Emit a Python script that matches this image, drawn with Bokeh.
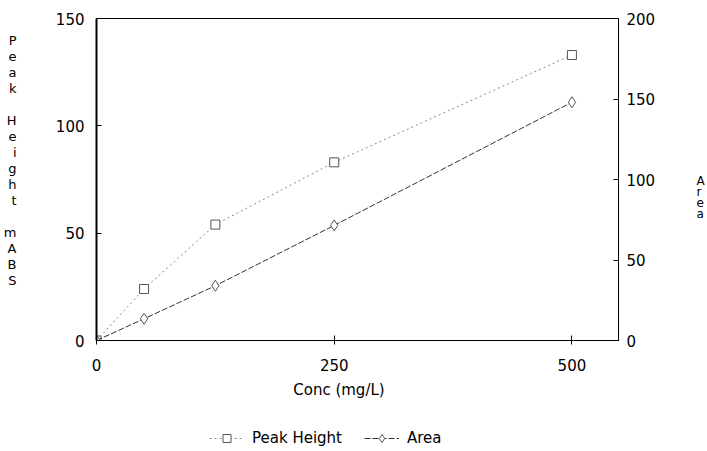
from bokeh.plotting import figure
from bokeh.models import Range1d, LinearAxis, Legend, LegendItem, FixedTicker
from bokeh.layouts import column
from bokeh.embed import file_html
from bokeh.resources import INLINE

conc = [0, 50, 125, 250, 500]
peak_height = [0, 24, 54, 83, 133]
area = [0, 13.5, 34, 71.5, 148]
x_ticks = [0, 250, 500]
left_ticks = [0, 50, 100, 150]
right_ticks = [0, 50, 100, 150, 200]
x_title = "Conc (mg/L)"
left_title = ["P", "e", "a", "k", "", "H", "e", "i", "g", "h", "t", "", "m", "A", "B", "S"]
right_title = ["A", "r", "e", "a"]
series_names = ["Peak Height", "Area"]

FONT = "DejaVu Sans"
FRAME_H = 322

p = figure(width=707, height=411, x_range=Range1d(0, 549), y_range=Range1d(0, 150),
           output_backend="svg", toolbar_location=None,
           min_border_left=94, min_border_right=87, min_border_top=18, min_border_bottom=71)
p.extra_y_ranges = {"area": Range1d(0, 200), "px": Range1d(0, FRAME_H)}
p.grid.visible = False
p.outline_line_color = "black"
p.outline_line_width = 1
p.background_fill_color = "white"
p.border_fill_color = "white"

ax_r = LinearAxis(y_range_name="area", ticker=FixedTicker(ticks=right_ticks))
p.add_layout(ax_r, "right")

p.xaxis.ticker = FixedTicker(ticks=x_ticks)
p.yaxis[0].ticker = FixedTicker(ticks=left_ticks)

for ax in p.xaxis:
    ax.major_tick_in = 5
    ax.major_tick_out = 4
    ax.major_label_standoff = 14
for ax in p.yaxis:
    ax.major_tick_in = 5
    ax.major_tick_out = 0
for ax in list(p.xaxis) + list(p.yaxis):
    ax.minor_tick_line_color = None
    ax.axis_line_color = "black"
    ax.major_tick_line_color = "black"
    ax.major_label_text_font = FONT
    ax.major_label_text_font_size = "15px"
    ax.major_label_text_color = "black"
p.yaxis[0].major_label_standoff = 12
p.yaxis[0].axis_line_width = 2
ax_r.major_label_standoff = 8


def text_axis(ticks, overrides, side, standoff, size, **kw):
    ax = LinearAxis(ticker=FixedTicker(ticks=ticks), major_label_overrides=overrides, **kw)
    ax.axis_line_color = None
    ax.major_tick_line_color = None
    ax.minor_tick_line_color = None
    ax.major_tick_in = 0
    ax.major_tick_out = 0
    ax.major_label_standoff = standoff
    ax.major_label_text_font = FONT
    ax.major_label_text_font_size = size
    ax.major_label_text_color = "black"
    p.add_layout(ax, side)


def letter_axis(letters, top_offset, spacing, side, standoff, size):
    ticks, overrides = [], {}
    for i, ch in enumerate(letters):
        if not ch:
            continue
        v = FRAME_H - (top_offset + i * spacing)
        ticks.append(v)
        overrides[v] = ch
    text_axis(ticks, overrides, side, standoff, size, y_range_name="px")


letter_axis(left_title, 22, 16, "left", 36, "13px")
letter_axis(right_title, 162, 11, "right", 38, "12px")
text_axis([255], {255: x_title}, "below", 7, "15px")

pl = p.line(conc, peak_height, line_color="#888888", line_width=1, line_dash="2 3")
ps = p.scatter(conc, peak_height, marker="square", size=9, fill_color="white",
               line_color="#555555", line_width=1)
al = p.line(conc, area, y_range_name="area", line_color="#333333", line_width=1, line_dash="6 2")
ad = p.scatter(conc, area, y_range_name="area", marker="diamond", size=11, fill_color="white",
               line_color="#555555", line_width=1)

# legend strip below the chart (its sample renderers lie outside its visible ranges)
p2 = figure(width=707, height=40, x_range=Range1d(1000, 1001), y_range=Range1d(1000, 1001),
            output_backend="svg", toolbar_location=None,
            x_axis_location=None, y_axis_location=None, min_border=0)
p2.grid.visible = False
p2.outline_line_color = None
p2.border_fill_color = "white"
l1 = p2.line(conc[:2], peak_height[:2], line_color="#888888", line_width=1, line_dash="2 3")
m1 = p2.scatter(conc[:1], peak_height[:1], marker="square", size=9, fill_color="white",
                line_color="#555555")
l2 = p2.line(conc[:2], area[:2], line_color="#333333", line_width=1, line_dash="6 2")
m2 = p2.scatter(conc[:1], area[:1], marker="diamond", size=11, fill_color="white",
                line_color="#555555")
legend = Legend(items=[LegendItem(label=series_names[0], renderers=[l1, m1]),
                       LegendItem(label=series_names[1], renderers=[l2, m2])],
                location=(113, 3), orientation="horizontal", glyph_width=35,
                label_standoff=8, spacing=22, padding=0, margin=0,
                border_line_alpha=0, background_fill_alpha=0,
                label_text_font=FONT, label_text_font_size="15px", label_text_color="black")
p2.add_layout(legend)

layout = column(p, p2, spacing=0)
open("out.html", "w").write(file_html(layout, INLINE))
